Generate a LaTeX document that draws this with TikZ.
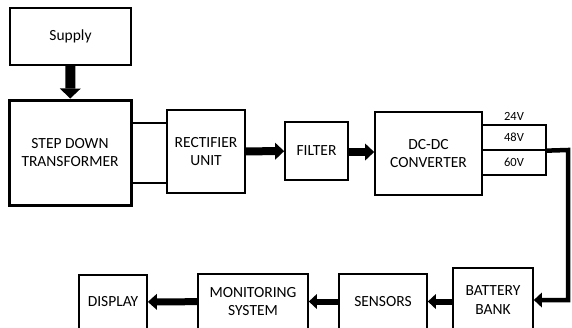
\documentclass[tikz,border=0pt]{standalone}
\usepackage{fontspec}
\setmainfont{Carlito}
\usetikzlibrary{arrows.meta}

\tikzset{
  block/.style={draw, line width=1.7pt, inner sep=0pt, align=center,
    font=\fontsize{15.5}{18.5}\selectfont},
  volt/.style={draw, line width=1.3pt, minimum width=64pt, minimum height=25pt,
    inner sep=0pt, font=\fontsize{12.5}{14}\selectfont},
  fat/.style={line width=8pt, -{Triangle[length=9pt,width=17pt,line width=0pt]}},
  link/.style={line width=1.5pt},
}

\begin{document}
\begin{tikzpicture}[x=1pt,y=-1pt]
\clip (0,0) rectangle (572,327);
\fill[white] (0,0) rectangle (572,327);
% power stage
\node[block, minimum width=121pt, minimum height=57pt] (supply) at (70.5,36.5) {Supply};
\node[block, line width=3pt, minimum width=122pt, minimum height=105pt] (transformer) at (70,152.5) {STEP DOWN\\TRANSFORMER};
\node[block, minimum width=78pt, minimum height=83pt] (rectifier) at (206,151.5) {RECTIFIER\\UNIT};
\node[block, minimum width=63pt, minimum height=58pt] (filter) at (316.5,151) {FILTER};
\node[block, minimum width=107pt, minimum height=83pt] (dcdc) at (428.5,153.5) {DC-DC\\CONVERTER};
\node[volt] (v48) at (514,137.5) {48V};
\node[volt] (v60) at (514,162.5) {60V};
\node[font=\fontsize{12.5}{14}\selectfont, inner sep=0pt] (v24) at (514,116) {24V};
% monitoring stage
\node[block, minimum width=68pt, minimum height=54pt] (display) at (113,302) {DISPLAY};
\node[block, minimum width=110pt, minimum height=55pt] (monitor) at (253,301.5) {MONITORING\\SYSTEM};
\node[block, minimum width=88pt, minimum height=55pt] (sensors) at (383,301.5) {SENSORS};
\node[block, minimum width=80pt, minimum height=64pt] (battery) at (493,300) {BATTERY\\BANK};
\coordinate (bend) at (568,150);

\draw[fat, line width=10pt, -{Triangle[length=10pt,width=21pt,line width=0pt]}] (supply) -- (transformer);
\draw[link] ([yshift=29.5pt]transformer.east) -- ([yshift=29.5pt]transformer.east -| rectifier.west);
\draw[link] ([yshift=-30.5pt]transformer.east) -- ([yshift=-30.5pt]transformer.east -| rectifier.west);
\draw[fat] (rectifier) -- (filter);
\draw[fat] ([yshift=-1pt]filter.east) -- ([yshift=-1pt]filter.east -| dcdc.west);
\draw[fat, line width=4.5pt, -{Triangle[length=8pt,width=15pt,line width=0pt]}] (v48.south east) -- (bend) |- (battery.east);
\draw[fat, line width=6pt, -{Triangle[length=8pt,width=15pt,line width=0pt]}] (battery.west |- sensors.east) -- (sensors.east);
\draw[fat, line width=6pt, -{Triangle[length=8pt,width=15pt,line width=0pt]}] (sensors) -- (monitor);
\draw[fat, line width=7pt, -{Triangle[length=9pt,width=16pt,line width=0pt]}] (monitor) -- (display);
\end{tikzpicture}
\end{document}
